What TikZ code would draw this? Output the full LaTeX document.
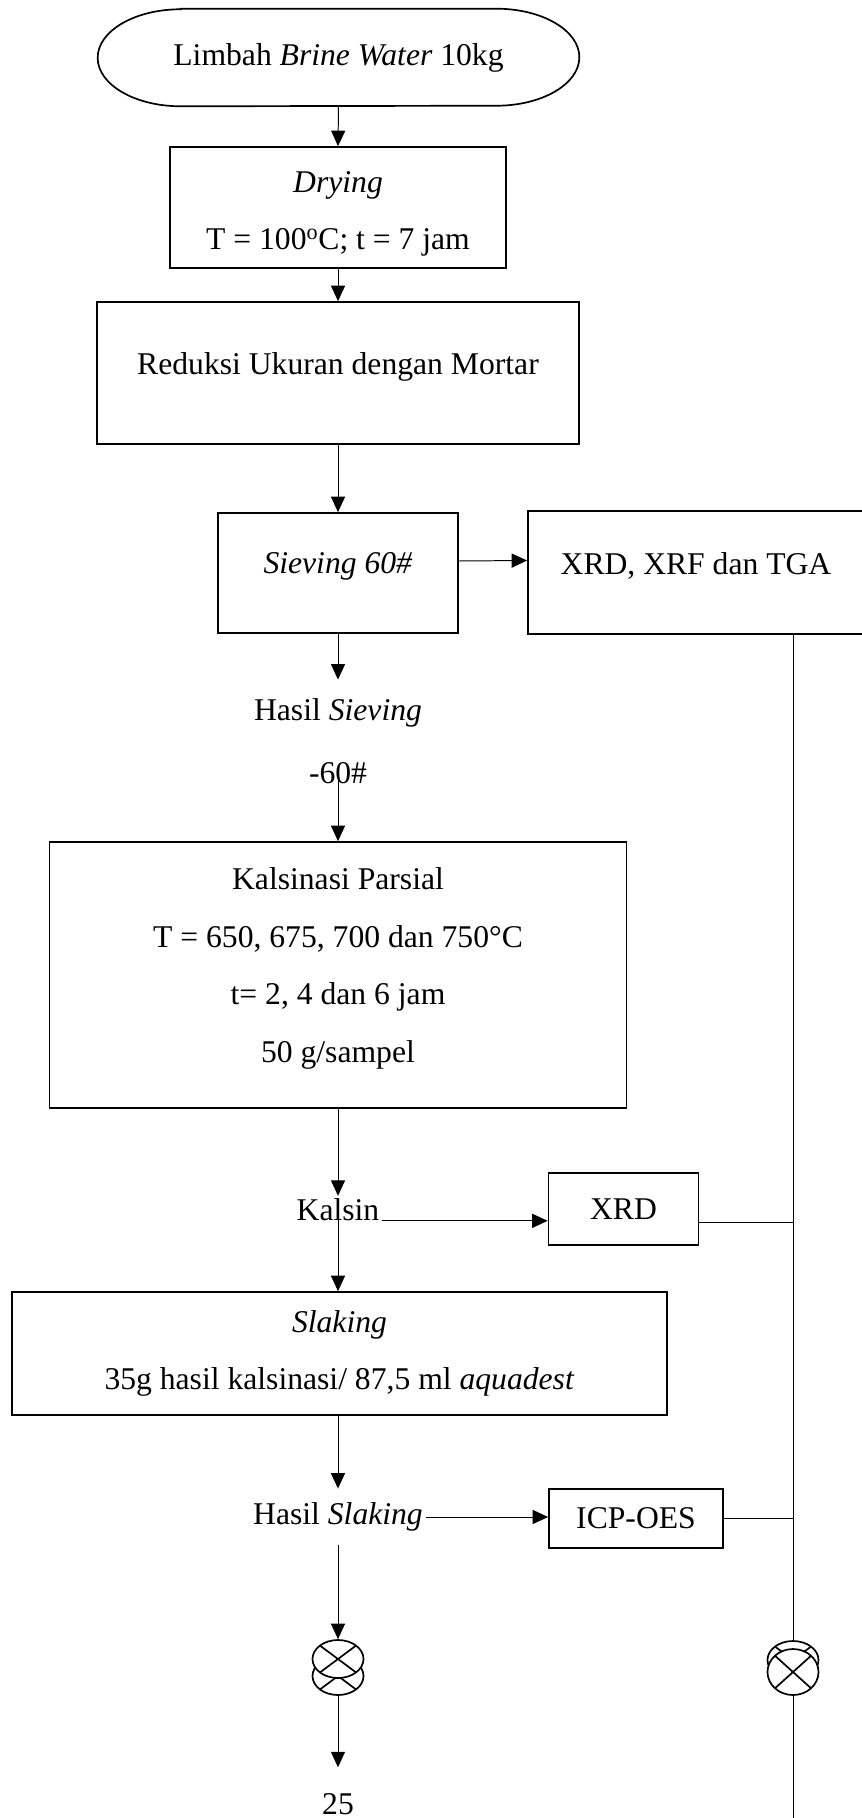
\documentclass[tikz,border=0pt]{standalone}
\usepackage{fontspec}
\setmainfont{Liberation Serif}
\usetikzlibrary{shapes, arrows.meta, calc}

\begin{document}
\begin{tikzpicture}[x=0.025cm, y=-0.025cm,
		every node/.style={font=\fontsize{22.5pt}{41pt}\selectfont},
		proc/.style={draw, line width=1.2pt, align=center, inner sep=0pt},
		lbl/.style={inner sep=2pt, align=center},
		flow/.style={line width=0.7pt, -{Triangle[length=11pt, width=10pt]}},
		link/.style={line width=0.7pt},
		xsym/.style={ellipse, draw, fill=white, line width=1.2pt, inner sep=0pt,
			minimum width=1.275cm, minimum height=0.95cm,
			path picture={\draw[line width=1.2pt]
				(path picture bounding box.north west) -- (path picture bounding box.south east)
				(path picture bounding box.north east) -- (path picture bounding box.south west);}}]
		\useasboundingbox (0,0) rectangle (861,1818);

		% Start
		\node[minimum width=12.025cm, minimum height=2.425cm] (start) at (338.5,57.5) {Limbah \textit{Brine Water} 10kg};
		\draw[line width=1.2pt] ([xshift=2.075cm]start.north west) -- ([xshift=-2.075cm]start.north east)
			arc[start angle=90, end angle=-90, x radius=2.075cm, y radius=1.2125cm]
			-- ([xshift=2.075cm]start.south west)
			arc[start angle=270, end angle=90, x radius=2.075cm, y radius=1.2125cm] -- cycle;

		% Main column
		\node[proc, minimum width=8.4cm, minimum height=3.025cm, text height=65pt] (drying) at (338,207.5) {\textit{Drying}\\T = 100\textsuperscript{o}C; t = 7 jam};
		\node[proc, minimum width=12.05cm, minimum height=3.55cm, text depth=13.4pt] (reduksi) at (338,373) {Reduksi Ukuran dengan Mortar};
		\node[proc, minimum width=6cm, minimum height=3cm, text depth=14.8pt] (sieving) at (338,573) {\textit{Sieving 60\#}};
		\node[proc, minimum width=8.4cm, minimum height=3.075cm, text depth=13pt] (xrf) at (696,572.5) {XRD, XRF dan TGA};
		\node[lbl] (hasilsv) at (338,713) {Hasil \textit{Sieving}};
		\node[lbl] (m60) at (338,773) {-60\#};
		\node[proc, minimum width=14.425cm, minimum height=6.65cm, text depth=14.1pt] (kalsinasi) at (338,975) {Kalsinasi Parsial\\T = 650, 675, 700 dan 750°C\\t= 2, 4 dan 6 jam\\50 g/sampel};
		\node[lbl] (kalsin) at (338,1210) {Kalsin};
		\node[proc, minimum width=3.75cm, minimum height=1.8cm] (xrd) at (623.5,1209) {XRD};
		\node[proc, minimum width=16.375cm, minimum height=3.075cm] (slaking) at (339.5,1353.5) {\textit{Slaking}\\35g hasil kalsinasi/ 87,5 ml \textit{aquadest}};
		\node[lbl] (hasilsl) at (338,1517) {Hasil \textit{Slaking}};
		\node[proc, minimum width=4.35cm, minimum height=1.475cm] (icp) at (636,1518.5) {ICP-OES};

		% Connectors (off page)
		\node[xsym] (symLb) at (338,1676) {};
		\node[xsym] (symLf) at (338,1659) {};
		\node[xsym] (symRb) at (793,1660) {};
		\node[xsym, minimum height=1.15cm] (symRf) at (793,1672) {};
		\node[lbl] (n25) at (338,1804) {25};
		\coordinate (bottom) at (793,1818);

		% Arrows
		\draw[flow] (start.south) -- (drying.north);
		\draw[flow] (drying.south) -- (reduksi.north);
		\draw[flow] (reduksi.south) -- (sieving.north);
		\draw[flow] ([yshift=0.3cm]sieving.east) -- ([yshift=0.3cm]xrf.west);
		\draw[flow] (sieving.south) -- ([yshift=0.4cm]hasilsv.north);
		\draw[flow] (m60.center) -- (kalsinasi.north);
		\draw[flow] (kalsinasi.south) -- (kalsin.north);
		\draw[flow] (kalsin.base east) -- (kalsin.base east -| xrd.west);
		\draw[flow] (kalsin.center) -- (kalsin.center |- slaking.north);
		\draw[flow] (hasilsl.north |- slaking.south) -- ([yshift=0.275cm]hasilsl.north);
		\draw[flow] (hasilsl.east) -- (hasilsl.east -| icp.west);
		\draw[flow] ([yshift=-0.275cm]hasilsl.south) -- (symLf.north);
		\draw[flow] (symLb.south) -- ([yshift=0.575cm]n25.north);

		% Analysis line
		\draw[link] (symRb |- xrf.south) -- (symRb.north);
		\draw[link] (symRf.south) -- (bottom);
		\draw[link] ([yshift=-0.325cm]xrd.east) coordinate (xrdout) -- (xrdout -| symRb);
		\draw[link] (icp.east) -- (icp.east -| symRb);
	\end{tikzpicture}
\end{document}
